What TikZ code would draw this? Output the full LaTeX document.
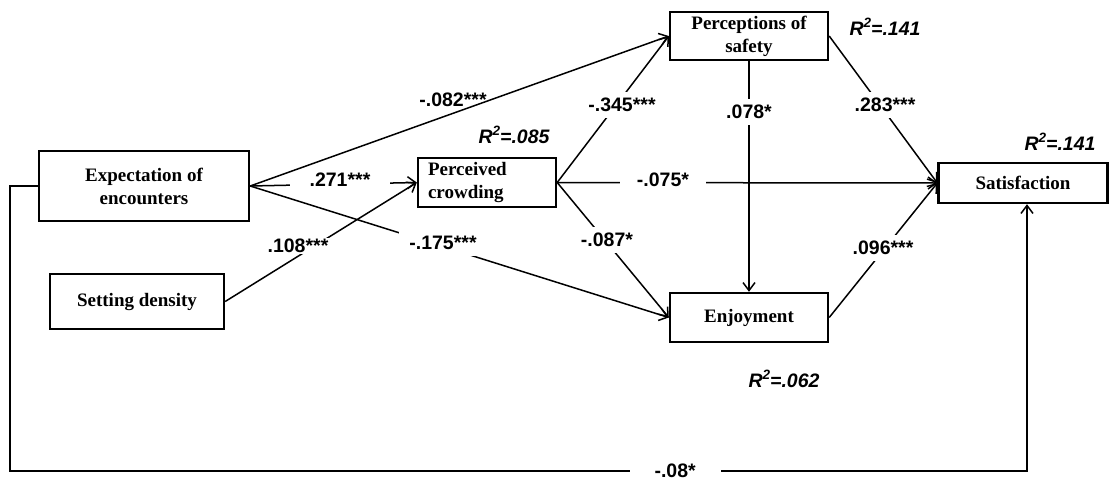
\documentclass[tikz,border=0pt]{standalone}
\usepackage{fontspec}
\setmainfont{Liberation Serif}
\newfontfamily\labfont{Liberation Sans}
\usetikzlibrary{arrows.meta}
\newcommand{\rsqtxt}[1]{R\raisebox{0.40em}{\fontsize{13.5}{13.5}\selectfont 2}=#1}
\begin{document}
\begin{tikzpicture}[x=1pt,y=-1pt,
  box/.style={draw,line width=2.4pt,font=\bfseries\fontsize{19}{23}\selectfont,inner sep=0pt,align=center},
  lab/.style={font=\labfont\bfseries\fontsize{19.5}{22}\selectfont,fill=white,inner xsep=6pt,inner ysep=6pt},
  rsq/.style={font=\labfont\bfseries\itshape\fontsize{19.5}{22}\selectfont,inner sep=0pt},
  arr/.style={line width=1.5pt,-{Straight Barb[length=8pt,width=12pt]}}]
\useasboundingbox (0,0) rectangle (1111,480);
% boxes
\node[box,minimum width=210pt,minimum height=70pt] (exp) at (144,186) {Expectation of\\encounters};
\node[box,minimum width=174pt,minimum height=55pt] (den) at (137,301.5) {Setting density};
\node[box,minimum width=138pt,minimum height=49pt,align=left,text width=118pt] (cro) at (487,182.5) {Perceived\\crowding};
\node[box,minimum width=158pt,minimum height=48pt] (saf) at (749,36) {Perceptions of\\safety};
\node[box,minimum width=169pt,minimum height=40pt] (sat) at (1023,183) {Satisfaction};
\node[box,minimum width=158pt,minimum height=49pt] (enj) at (749,317.5) {Enjoyment};
% connectors
\draw[arr] (exp.east) -- (cro.west);
\draw[arr] (exp.east) -- (enj.west);
\draw[arr] (den.east) -- (cro.west);
\draw[arr] (cro.east) -- (saf.west);
\draw[arr] (cro.east) -- (sat.west);
\draw[arr] (cro.east) -- (enj.west);
\draw[arr] (saf.south) -- (enj.north);
\draw[arr] (saf.east) -- (sat.west);
\draw[arr] (enj.east) -- (sat.west);
\coordinate (lb) at (10,471);
\coordinate (rb) at (1027,471);
\draw[arr] (exp.west) -| (lb) -- node[lab,pos=0.654,inner xsep=25pt,inner ysep=3pt] (l08) {-.08*} (rb) -- (rb |- sat.south);
% path labels
\node[lab,inner xsep=20pt,inner ysep=2pt] (l271) at (340,180) {.271***};
\node[lab,inner xsep=2pt,inner ysep=1pt] (l108) at (298,246) {.108***};
\node[lab,inner xsep=10pt] (l175) at (443,243) {-.175***};
\node[lab] (l345) at (622,105) {-.345***};
\node[lab] (l078) at (749,112) {.078*};
\node[lab] (l283) at (885,105) {.283***};
\node[lab,inner xsep=17pt,inner ysep=3pt] (l075) at (663,180) {-.075*};
\node[lab] (l087) at (607,240) {-.087*};
\node[lab] (l096) at (883,248) {.096***};
\draw[arr] (exp.east) -- (saf.west);
\node[lab,fill=none] (l082) at (453,100) {-.082***};
% R squared
\node[rsq] (r1) at (885,27) {\rsqtxt{.141}};
\node[rsq] (r2) at (514,135) {\rsqtxt{.085}};
\node[rsq] (r3) at (1060,142) {\rsqtxt{.141}};
\node[rsq] (r4) at (784,379) {\rsqtxt{.062}};
\end{tikzpicture}
\end{document}
